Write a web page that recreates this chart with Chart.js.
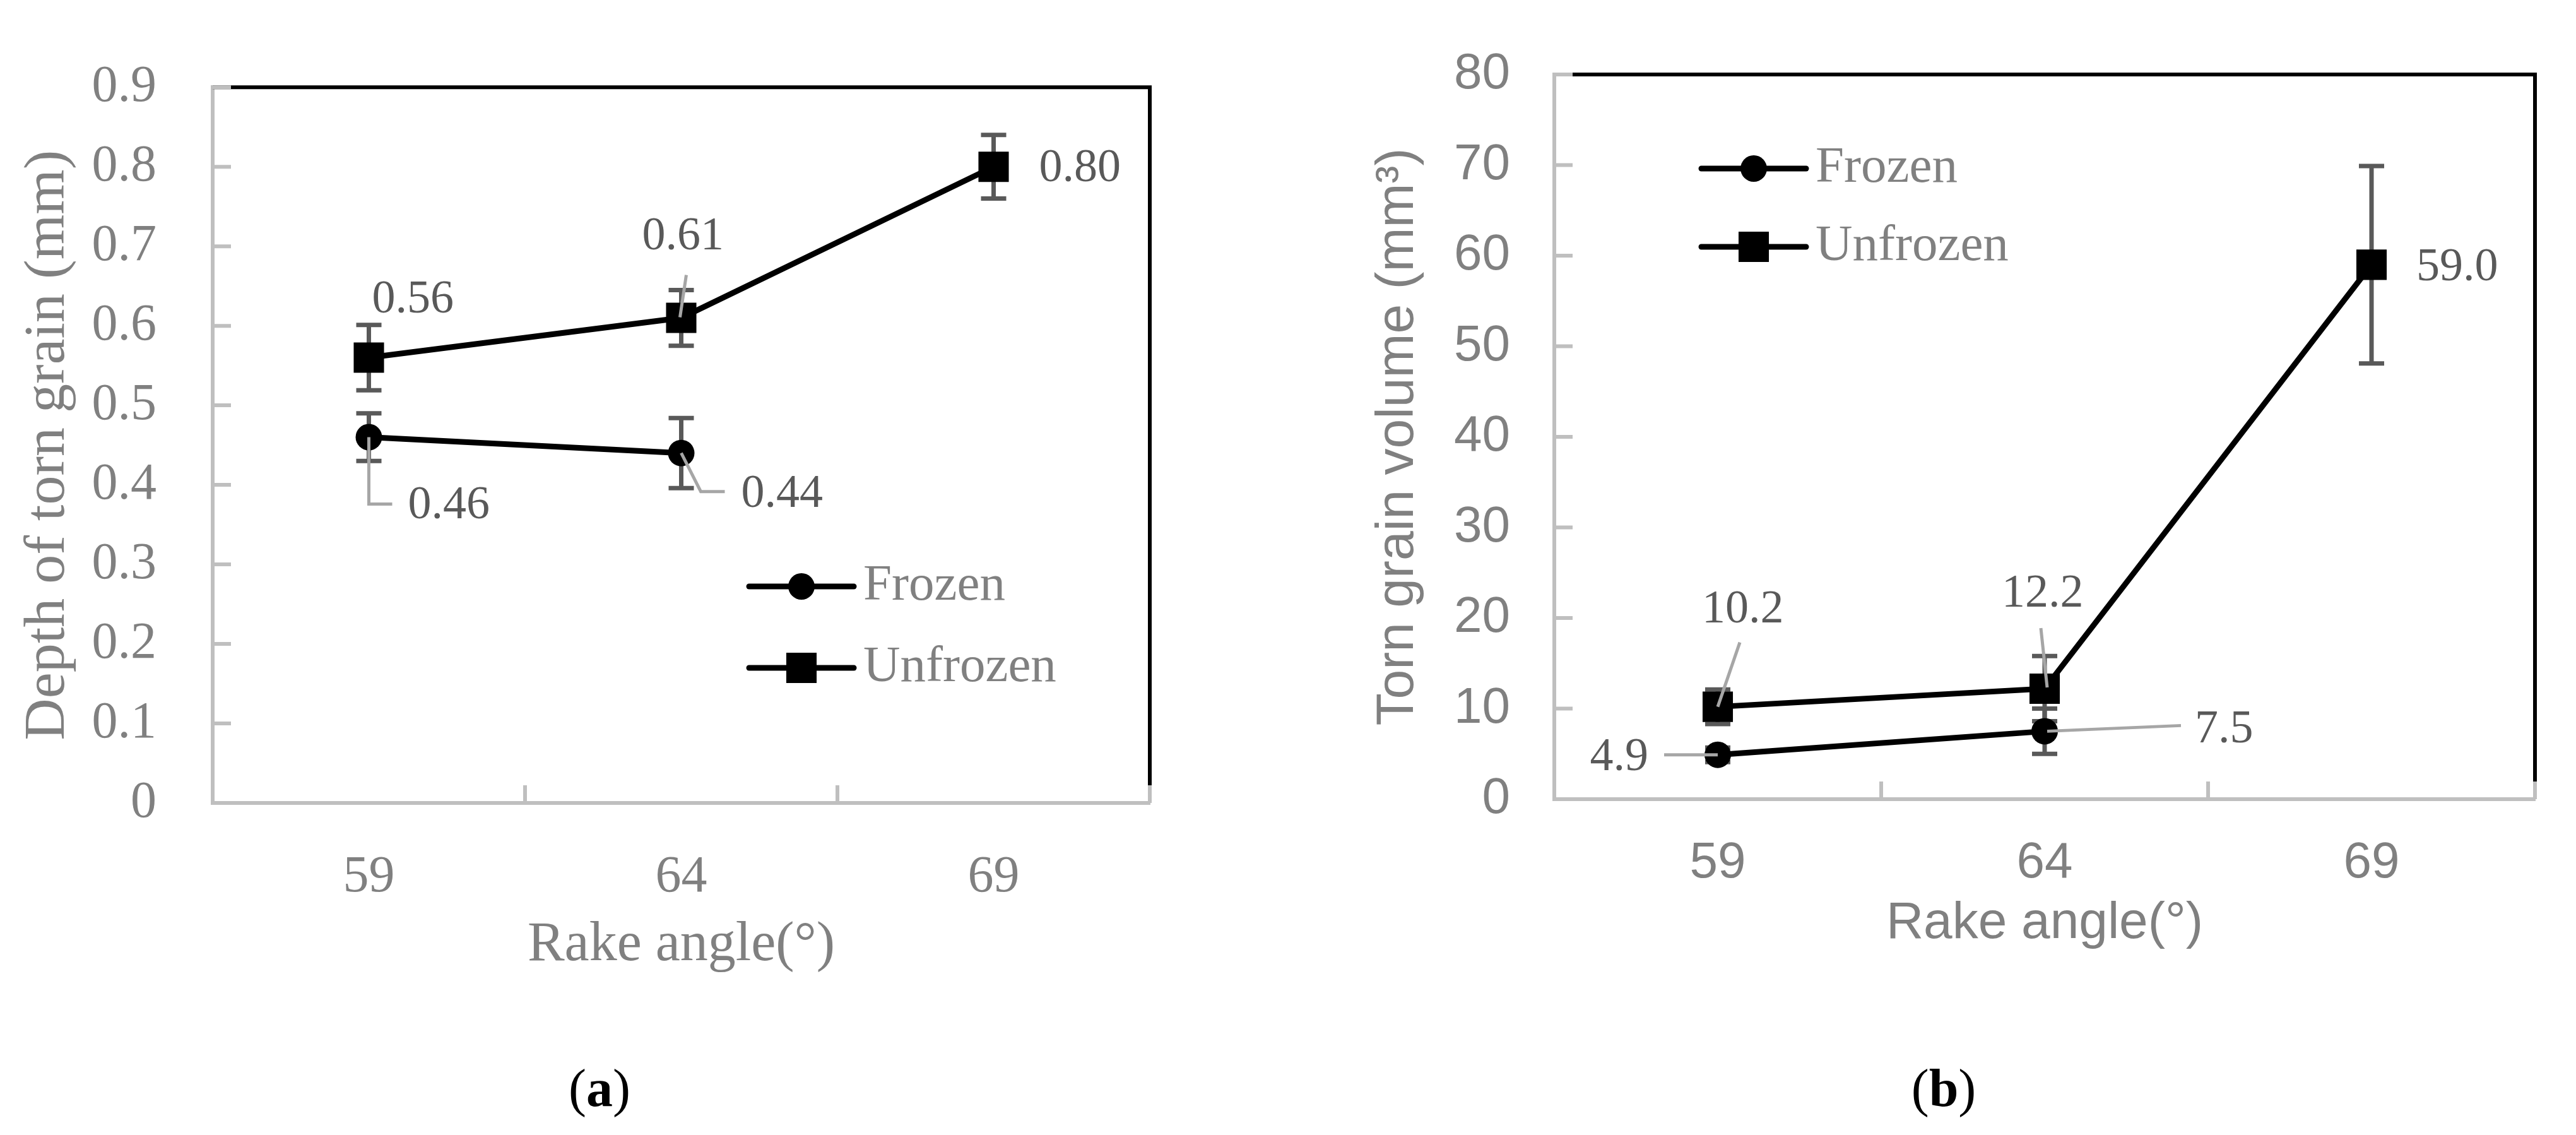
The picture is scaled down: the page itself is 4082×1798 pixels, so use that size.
<!DOCTYPE html>
<html>
<head>
<meta charset="utf-8">
<script src="https://cdn.jsdelivr.net/npm/chart.js@4.4.1/dist/chart.umd.min.js"></script>
<style>
  body { margin: 0; background: #fff; width: 4082px; height: 1798px; overflow: hidden; position: relative; }
  canvas { position: absolute; top: 0; }
  #depthChart { left: 0; }
  #volumeChart { left: 2100px; }
  .sub { position: absolute; width: 400px; text-align: center; font: 84px 'Liberation Serif', serif; line-height: 84px; color: #000; }
</style>
</head>
<body>
<canvas id="depthChart" width="1900" height="1650"></canvas>
<canvas id="volumeChart" width="1982" height="1650"></canvas>
<div class="sub" style="left:750px; top:1682px;">(<b>a</b>)</div>
<div class="sub" style="left:2880px; top:1682px;">(<b>b</b>)</div>
<script>
const angles = ['59', '64', '69'];

// (a) depth of torn grain, mm
const depthFrozen = [0.46, 0.44, null];
const depthUnfrozen = [0.56, 0.61, 0.80];
const depthFrozenErr = [0.03, 0.044, null];
const depthUnfrozenErr = [0.041, 0.035, 0.04];

// (b) torn grain volume, mm3
const volFrozen = [4.9, 7.5, null];
const volUnfrozen = [10.2, 12.2, 59.0];
const volFrozenErr = [0.8, 2.5, null];
const volUnfrozenErr = [1.9, 3.6, 10.9];

const serif = "'Liberation Serif', serif";
const sans = "'Liberation Sans', sans-serif";

// black top/right frame and the short inside tick marks
const frame = {
    id: 'frame',
    beforeDatasetsDraw(chart) {
        const {ctx, chartArea: a, scales: {x, y}} = chart;
        ctx.save();
        ctx.lineWidth = 6;
        ctx.strokeStyle = '#000';
        ctx.beginPath();
        ctx.moveTo(a.left, a.top);
        ctx.lineTo(a.right, a.top);
        ctx.lineTo(a.right, a.bottom);
        ctx.stroke();
        ctx.strokeStyle = '#bfbfbf';
        ctx.beginPath();
        y.ticks.forEach(t => {
            const py = y.getPixelForValue(t.value);
            ctx.moveTo(a.left, py);
            ctx.lineTo(a.left + 29, py);
        });
        for (let i = 0; i <= x.ticks.length; i++) {
            const px = x.getPixelForValue(i - 0.5);
            ctx.moveTo(px, a.bottom);
            ctx.lineTo(px, a.bottom - 28);
        }
        ctx.stroke();
        ctx.restore();
    }
};

const errorBars = {
    id: 'errorBars',
    beforeDatasetsDraw(chart) {
        const {ctx, scales: {y}} = chart;
        ctx.save();
        ctx.strokeStyle = '#595959';
        ctx.lineWidth = 7;
        chart.data.datasets.forEach((ds, di) => {
            const meta = chart.getDatasetMeta(di);
            ds.errors.forEach((e, i) => {
                if (e == null || ds.data[i] == null) return;
                const px = meta.data[i].x;
                const top = y.getPixelForValue(ds.data[i] + e);
                const bot = y.getPixelForValue(ds.data[i] - e);
                ctx.beginPath();
                ctx.moveTo(px, top); ctx.lineTo(px, bot);
                ctx.moveTo(px - 20, top); ctx.lineTo(px + 20, top);
                ctx.moveTo(px - 20, bot); ctx.lineTo(px + 20, bot);
                ctx.stroke();
            });
        });
        ctx.restore();
    }
};

// value labels with the grey leader lines
const valueLabels = {
    id: 'valueLabels',
    afterDatasetsDraw(chart, args, opts) {
        const ctx = chart.ctx;
        ctx.save();
        chart.data.datasets.forEach((ds, di) => {
            const meta = chart.getDatasetMeta(di);
            ds.spots.forEach((s, i) => {
                if (!s || ds.data[i] == null) return;
                const p = meta.data[i];
                if (s.leader) {
                    ctx.strokeStyle = '#a6a6a6';
                    ctx.lineWidth = 5;
                    ctx.beginPath();
                    s.leader.forEach((q, k) => {
                        if (k === 0) ctx.moveTo(p.x + q[0], p.y + q[1]);
                        else ctx.lineTo(p.x + q[0], p.y + q[1]);
                    });
                    ctx.stroke();
                }
                ctx.fillStyle = '#595959';
                ctx.font = opts.font;
                ctx.textAlign = s.align || 'left';
                ctx.textBaseline = 'middle';
                ctx.fillText(ds.data[i].toFixed(opts.decimals), p.x + s.dx, p.y + s.dy);
            });
        });
        ctx.restore();
    }
};

const sideLegend = {
    id: 'sideLegend',
    afterDraw(chart, args, opts) {
        const ctx = chart.ctx;
        ctx.save();
        chart.data.datasets.forEach((ds, i) => {
            const y = opts.y + i * opts.gap;
            ctx.strokeStyle = '#000';
            ctx.lineWidth = 9;
            ctx.lineCap = 'round';
            ctx.beginPath();
            ctx.moveTo(opts.x, y);
            ctx.lineTo(opts.x + 166, y);
            ctx.stroke();
            ctx.fillStyle = '#000';
            Chart.helpers.drawPoint(ctx, {pointStyle: ds.pointStyle, radius: ds.pointRadius, borderWidth: 0, rotation: 0}, opts.x + 83, y);
            ctx.fillStyle = '#808080';
            ctx.font = opts.font;
            ctx.textAlign = 'left';
            ctx.textBaseline = 'middle';
            ctx.fillText(ds.label, opts.x + 181, y);
        });
        ctx.restore();
    }
};

function series(label, data, errors, style, spots) {
    return {
        label: label,
        data: data,
        errors: errors,
        spots: spots,
        borderColor: '#000',
        borderWidth: 9,
        pointStyle: style,
        pointRadius: style === 'rect' ? 34 : 21,
        pointHoverRadius: style === 'rect' ? 34 : 21,
        pointBackgroundColor: '#000',
        pointBorderWidth: 0,
        tension: 0
    };
}

function makeChart(id, c) {
    return new Chart(document.getElementById(id), {
        type: 'line',
        data: { labels: angles, datasets: c.datasets },
        plugins: [frame, errorBars, valueLabels, sideLegend],
        options: {
            responsive: false,
            devicePixelRatio: 1,
            animation: false,
            events: [],
            layout: { padding: c.padding },
            scales: {
                x: {
                    offset: true,
                    grid: { display: false, drawTicks: false },
                    border: { display: true, color: '#bfbfbf', width: 6 },
                    ticks: { color: '#808080', padding: c.xTickPad, font: { family: c.tickFamily, size: c.tickSize } },
                    title: { display: true, text: 'Rake angle(°)', color: '#808080',
                        padding: { bottom: c.xTitlePad, top: 0 }, font: { family: c.tickFamily, size: c.xTitleSize } },
                    afterFit: s => { s.height = 300; }
                },
                y: {
                    min: 0,
                    max: c.yMax,
                    grid: { display: false, drawTicks: false },
                    border: { display: true, color: '#bfbfbf', width: 6 },
                    ticks: { stepSize: c.step, color: '#808080', padding: c.yTickPad,
                        font: { family: c.tickFamily, size: c.tickSize },
                        callback: v => String(Number(v.toFixed(1))) },
                    title: { display: true, text: c.yTitle, color: '#808080',
                        padding: { top: c.yTitlePad, bottom: 0 }, font: { family: c.tickFamily, size: c.yTitleSize } },
                    afterFit: s => { s.width = c.yWidth; }
                }
            },
            plugins: {
                legend: { display: false },
                tooltip: { enabled: false },
                valueLabels: { font: '74px ' + serif, decimals: c.decimals },
                sideLegend: { x: c.legendX, y: c.legendY, gap: c.legendGap, font: '81px ' + serif }
            }
        }
    });
}

makeChart('depthChart', {
    datasets: [
        series('Frozen', depthFrozen, depthFrozenErr, 'circle', [
            { dx: 62, dy: 109, leader: [[0, 0], [0, 106], [37, 106]] },
            { dx: 95, dy: 66, leader: [[0, 0], [31, 61], [69, 61]] }
        ]),
        series('Unfrozen', depthUnfrozen, depthUnfrozenErr, 'rect', [
            { dx: 5, dy: -91 },
            { dx: -62, dy: -128, leader: [[8, -68], [-2, -1]] },
            { dx: 72, dy: 3 }
        ])
    ],
    padding: { left: 0, top: 86, right: 78, bottom: 78 },
    yWidth: 337,
    yMax: 0.9,
    step: 0.1,
    decimals: 2,
    tickFamily: serif,
    tickSize: 82,
    xTickPad: 69,
    yTickPad: 89,
    xTitleSize: 88,
    xTitlePad: 21,
    yTitle: 'Depth of torn grain (mm)',
    yTitleSize: 92,
    yTitlePad: 22,
    legendX: 1187,
    legendY: 929,
    legendGap: 129
});

makeChart('volumeChart', {
    datasets: [
        series('Frozen', volFrozen, volFrozenErr, 'circle', [
            { dx: -110, dy: 5, align: 'right', leader: [[-85, 0], [0, 0]] },
            { dx: 238, dy: -2, leader: [[4, 0], [216, -9]] }
        ]),
        series('Unfrozen', volUnfrozen, volUnfrozenErr, 'rect', [
            { dx: -25, dy: -153, leader: [[35, -102], [0, 0]] },
            { dx: -68, dy: -149, leader: [[-6, -96], [4, -2]] },
            { dx: 71, dy: 5 }
        ])
    ],
    padding: { left: 0, top: 77, right: 65, bottom: 84 },
    yWidth: 363,
    yMax: 80,
    step: 10,
    decimals: 1,
    tickFamily: sans,
    tickSize: 80,
    xTickPad: 54,
    yTickPad: 70,
    xTitleSize: 82,
    xTitlePad: 53,
    yTitle: 'Torn grain volume (mm³)',
    yTitleSize: 84,
    yTitlePad: 65,
    legendX: 596,
    legendY: 267,
    legendGap: 124
});
</script>
</body>
</html>
